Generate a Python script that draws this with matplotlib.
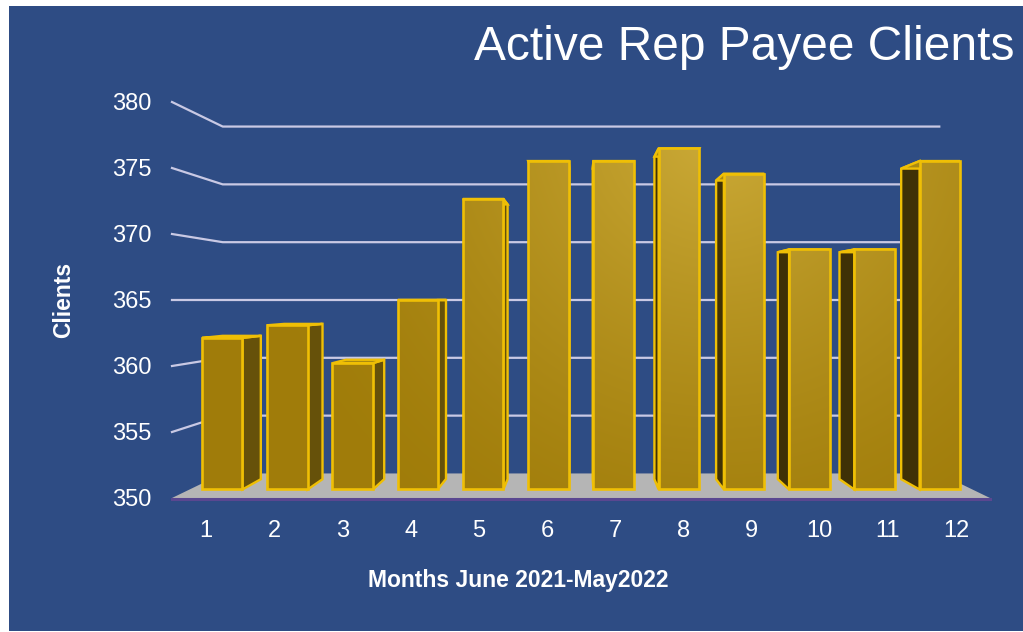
import numpy as np
import matplotlib.pyplot as plt
from matplotlib.patches import Rectangle, Polygon

months = list(range(1, 13))
clients = [362, 363, 360, 365, 373, 376, 376, 377, 375, 369, 369, 376]
y_ticks = [350, 355, 360, 365, 370, 375, 380]

TITLE = "Active Rep Payee Clients"
XLABEL = "Months June 2021-May2022"
YLABEL = "Clients"

BG = "#2e4c84"
GRID = "#c9c9e4"
EDGE = "#efbf05"
FLOOR = "#b5b5b5"
DARK = np.array([0.63, 0.49, 0.04])
LIGHT = np.array([0.80, 0.67, 0.22])

# fake 3d: everything is scaled toward a vanishing point
EYE_X = 6.5
EYE_Y = 365.0
BACK = 0.876       # depth scale of the back wall
BAR_FRONT = 0.957
BAR_BACK = 0.905
BAR_W = 0.62


def proj(x, v, s):
    return EYE_X + (x - EYE_X) * s, EYE_Y + (v - EYE_Y) * s


plt.rcParams['font.family'] = ['Liberation Sans', 'DejaVu Sans']

fig = plt.figure(figsize=(10.23, 6.32), dpi=100)
fig.patch.set_facecolor("white")
fig.patches.append(Rectangle((9 / 1023, 1 - 631 / 632), 1014 / 1023, 625 / 632,
                             transform=fig.transFigure, facecolor=BG, edgecolor="none", zorder=-10))

ax = fig.add_axes([172 / 1023, 1 - 498 / 632, 818 / 1023, 396 / 632])
ax.set_zorder(2)
ax.set_facecolor("none")
x0, x1 = 0.5, 12.5
y0, y1 = y_ticks[0], y_ticks[-1]

# back wall gridlines + left wall diagonals
for v in y_ticks[1:]:
    bx0, by = proj(x0, v, BACK)
    bx1, _ = proj(x1, v, BACK)
    ax.plot([x0, bx0, bx1], [v, by, by], color=GRID, lw=1.6, zorder=1, clip_on=False)

# floor
fl = [proj(x0, y0, 1), proj(x1, y0, 1), proj(x1, y0, BACK), proj(x0, y0, BACK)]
ax.add_patch(Polygon(fl, closed=True, facecolor=FLOOR, edgecolor="none", zorder=2, clip_on=False))
ax.plot([x0, x1], [y0 - 0.08, y0 - 0.08], color="#5a4790", lw=2.2, zorder=2, clip_on=False)

# gradient used for the bar fronts, lighter toward upper right
gx = np.linspace(x0, x1, 300)
gy = np.linspace(y0, y1, 300)
GX, GY = np.meshgrid(gx, gy)
d = np.hypot((GX - 8.5) * 68.2, (GY - 378) * 13.2)
t = np.clip(1 - d / 470, 0, 1) ** 1.4
img = DARK[None, None, :] * (1 - t[..., None]) + LIGHT[None, None, :] * t[..., None]

for m, v in zip(months, clients):
    l, r = m - BAR_W / 2, m + BAR_W / 2
    z = 3 + abs(m - EYE_X)
    # side face
    if m < EYE_X:
        side = [proj(r, y0, BAR_FRONT), proj(r, v, BAR_FRONT), proj(r, v, BAR_BACK), proj(r, y0, BAR_BACK)]
        sc = "#66510a"
    else:
        side = [proj(l, y0, BAR_FRONT), proj(l, v, BAR_FRONT), proj(l, v, BAR_BACK), proj(l, y0, BAR_BACK)]
        sc = "#3f3106"
    ax.add_patch(Polygon(side, closed=True, facecolor=sc, edgecolor=EDGE, lw=1.7,
                         zorder=z, clip_on=False))
    # top face
    top = [proj(l, v, BAR_FRONT), proj(r, v, BAR_FRONT), proj(r, v, BAR_BACK), proj(l, v, BAR_BACK)]
    ax.add_patch(Polygon(top, closed=True, facecolor="#a98a12", edgecolor=EDGE, lw=1.7,
                         zorder=z + 0.01, clip_on=False))
    # front face
    front = [proj(l, y0, BAR_FRONT), proj(r, y0, BAR_FRONT), proj(r, v, BAR_FRONT), proj(l, v, BAR_FRONT)]
    fp = Polygon(front, closed=True, facecolor="none", edgecolor=EDGE, lw=1.9,
                 zorder=z + 0.03, clip_on=False)
    ax.add_patch(fp)
    im = ax.imshow(img, extent=(x0, x1, y0, y1), origin="lower", aspect="auto",
                   zorder=z + 0.02, interpolation="bilinear")
    im.set_clip_path(fp)

ax.set_xlim(x0, x1)
ax.set_ylim(y0, y1)
ax.set_xticks(months)
ax.set_yticks(y_ticks)
ax.tick_params(length=0, labelsize=17, colors="white")
ax.tick_params(axis="y", pad=15)
ax.tick_params(axis="x", pad=16)
for s in ax.spines.values():
    s.set_visible(False)

fig.text(1015 / 1023, 1 - 47 / 632, TITLE, ha="right", va="center", fontsize=34.5, color="white")
fig.text(518 / 1023, 1 - 581 / 632, XLABEL, ha="center", va="center", fontsize=16.5,
         fontweight="bold", color="white")
fig.text(64 / 1023, 1 - 300 / 632, YLABEL, ha="center", va="center", fontsize=16.5,
         fontweight="bold", color="white", rotation=90)

fig.savefig("out.png", dpi=100, facecolor=fig.get_facecolor())
